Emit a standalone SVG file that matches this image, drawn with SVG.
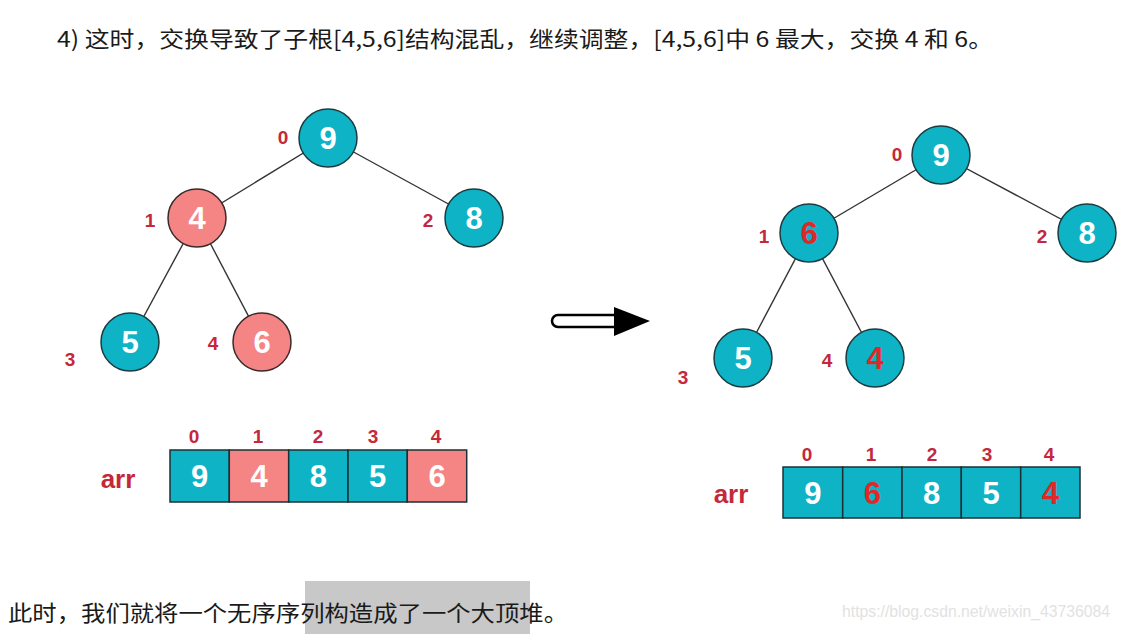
<svg xmlns="http://www.w3.org/2000/svg" width="1122" height="634" viewBox="0 0 1122 634">
<style>
.cjk{font-family:"Noto Sans CJK SC","Liberation Sans",sans-serif;fill:#1a1a1a}
.edge{stroke:#333;stroke-width:1.4;fill:none}
.teal{fill:#0fb3c6;stroke:#1b3b40;stroke-width:1.5}
.pink{fill:#f58585;stroke:#3b2a2a;stroke-width:1.5}
.num{font-family:"Liberation Sans",Arial,sans-serif;font-weight:bold;font-size:31px;text-anchor:middle;fill:#fff}
.numr{fill:#e02828}
.idx{font-family:"Liberation Sans",Arial,sans-serif;font-weight:bold;font-size:19px;text-anchor:middle;fill:#c4283a}
.arr{font-family:"Liberation Sans",Arial,sans-serif;font-weight:bold;font-size:26px;text-anchor:middle;fill:#c4283a}
.cellT{fill:#0fb3c6;stroke:#1b3036;stroke-width:1.5}
.cellP{fill:#f58585;stroke:#1b3036;stroke-width:1.5}
</style>
<rect width="1122" height="634" fill="#ffffff"/>
<text class="cjk" x="57" y="47" font-size="22" textLength="936" lengthAdjust="spacingAndGlyphs">4) 这时，交换导致了子根[4,5,6]结构混乱，继续调整，[4,5,6]中 6 最大，交换 4 和 6。</text>

<g id="connectors">
<line class="edge" x1="328" y1="138" x2="197" y2="218"/>
<line class="edge" x1="328" y1="138" x2="474" y2="218"/>
<line class="edge" x1="197" y1="218" x2="130" y2="342"/>
<line class="edge" x1="197" y1="218" x2="262" y2="342"/>
<line class="edge" x1="941" y1="155" x2="809" y2="233"/>
<line class="edge" x1="941" y1="155" x2="1087" y2="233"/>
<line class="edge" x1="809" y1="233" x2="743" y2="358"/>
<line class="edge" x1="809" y1="233" x2="875" y2="358"/>
</g>

<g id="L0"><circle class="teal" cx="328" cy="138" r="29"/><text class="num" x="328" y="149">9</text><text class="idx" x="283" y="144">0</text></g>
<g id="L1"><circle class="pink" cx="197" cy="218" r="29"/><text class="num" x="197" y="229">4</text><text class="idx" x="150" y="227">1</text></g>
<g id="L2"><circle class="teal" cx="474" cy="218" r="29"/><text class="num" x="474" y="229">8</text><text class="idx" x="428" y="227">2</text></g>
<g id="L3"><circle class="teal" cx="130" cy="342" r="29"/><text class="num" x="130" y="353">5</text><text class="idx" x="70" y="366">3</text></g>
<g id="L4"><circle class="pink" cx="262" cy="342" r="29"/><text class="num" x="262" y="353">6</text><text class="idx" x="213" y="350">4</text></g>

<g id="leftArray">
<text class="arr" x="118" y="488">arr</text>
<rect class="cellT" x="170" y="450" width="59.3" height="52"/>
<rect class="cellP" x="229.3" y="450" width="59.4" height="52"/>
<rect class="cellT" x="288.7" y="450" width="59.3" height="52"/>
<rect class="cellT" x="348" y="450" width="59.3" height="52"/>
<rect class="cellP" x="407.3" y="450" width="59.4" height="52"/>
<text class="num" x="199.6" y="487">9</text>
<text class="num" x="259" y="487">4</text>
<text class="num" x="318.3" y="487">8</text>
<text class="num" x="377.6" y="487">5</text>
<text class="num" x="437" y="487">6</text>
<text class="idx" x="194" y="443">0</text>
<text class="idx" x="258" y="443">1</text>
<text class="idx" x="318" y="443">2</text>
<text class="idx" x="373" y="443">3</text>
<text class="idx" x="436" y="443">4</text>
</g>

<g id="arrow">
<path d="M558,315 H620 V327 H558 A6,6 0 0 1 558,315 Z" fill="#fff" stroke="#000" stroke-width="2.5"/>
<polygon points="614,307 650,321 614,336" fill="#000"/>
</g>

<g id="R0"><circle class="teal" cx="941" cy="155" r="29"/><text class="num" x="941" y="166">9</text><text class="idx" x="897" y="161">0</text></g>
<g id="R1"><circle class="teal" cx="809" cy="233" r="29"/><text class="num numr" x="809" y="244">6</text><text class="idx numr" x="764" y="243">1</text></g>
<g id="R2"><circle class="teal" cx="1087" cy="233" r="29"/><text class="num" x="1087" y="244">8</text><text class="idx numr" x="1042" y="243">2</text></g>
<g id="R3"><circle class="teal" cx="743" cy="358" r="29"/><text class="num" x="743" y="369">5</text><text class="idx numr" x="683" y="384">3</text></g>
<g id="R4"><circle class="teal" cx="875" cy="358" r="29"/><text class="num numr" x="875" y="369">4</text><text class="idx numr" x="827" y="367">4</text></g>

<g id="rightArray">
<text class="arr" x="731" y="503">arr</text>
<rect class="cellT" x="783" y="467" width="59.7" height="51"/>
<rect class="cellT" x="842.7" y="467" width="59.3" height="51"/>
<rect class="cellT" x="902" y="467" width="59.3" height="51"/>
<rect class="cellT" x="961.3" y="467" width="59.4" height="51"/>
<rect class="cellT" x="1020.7" y="467" width="59.3" height="51"/>
<text class="num" x="812.8" y="504">9</text>
<text class="num numr" x="872.3" y="504">6</text>
<text class="num" x="931.6" y="504">8</text>
<text class="num" x="991" y="504">5</text>
<text class="num numr" x="1050.3" y="504">4</text>
<text class="idx numr" x="807" y="461">0</text>
<text class="idx numr" x="871" y="461">1</text>
<text class="idx numr" x="932" y="461">2</text>
<text class="idx numr" x="987" y="461">3</text>
<text class="idx numr" x="1049" y="461">4</text>
</g>

<rect x="305" y="581" width="225" height="53" fill="#c8c8c8"/>
<text class="cjk" x="8" y="621" font-size="22" textLength="560" lengthAdjust="spacingAndGlyphs">此时，我们就将一个无序序列构造成了一个大顶堆。</text>
<text x="842" y="617" font-family="'Liberation Sans',Arial,sans-serif" font-size="16" fill="#e2e2e2" textLength="268" lengthAdjust="spacingAndGlyphs">https://blog.csdn.net/weixin_43736084</text>
</svg>
